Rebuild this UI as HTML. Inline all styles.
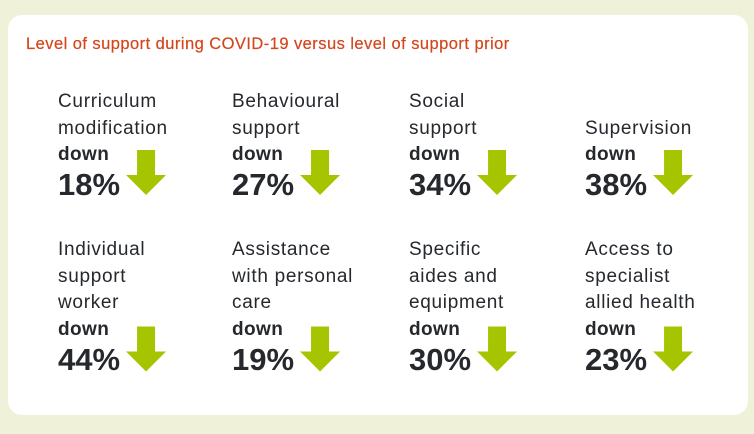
<!DOCTYPE html>
<html><head><meta charset="utf-8"><style>
body{margin:0;width:754px;height:434px;background:#eff2d8;font-family:"Liberation Sans",sans-serif;overflow:hidden;position:relative}
#card{position:absolute;left:8px;top:15px;width:740px;height:400px;background:#fff;border-radius:14px}
#title{position:absolute;left:26px;top:35px;font-size:16.5px;letter-spacing:0.45px;color:#d4461c;white-space:nowrap;-webkit-text-stroke:0.2px #d4461c}
.item{position:absolute;color:#25282d}
.ln{position:absolute;left:0;height:26.5px;line-height:26.5px;font-size:19px;letter-spacing:0.7px;white-space:nowrap}
.b{font-weight:bold;letter-spacing:0.4px}
.pc{position:absolute;left:0;font-size:31px;font-weight:bold;line-height:34px;white-space:nowrap}
svg{position:absolute;left:0;top:0}
</style></head><body>
<div id="card"></div>
<div id="title">Level of support during COVID-19 versus level of support prior</div>
<div id="items"></div>
<svg id="arrows" width="754" height="434"></svg>
<script>
const categories=[["Curriculum","modification"],["Behavioural","support"],["Social","support"],["Supervision"],["Individual","support","worker"],["Assistance","with personal","care"],["Specific","aides and","equipment"],["Access to","specialist","allied health"]];
const values=[18,27,34,38,44,19,30,23];
const colX=[58,232,409,585];
const rowTops=[[89,115.5,142,168],[237,263.5,290,316.5,343]];
const host=document.getElementById('items');
const svg=document.getElementById('arrows');
const NS='http://www.w3.org/2000/svg';
const meas=document.createElement('canvas').getContext('2d');
meas.font='bold 31px "Liberation Sans", sans-serif';
categories.forEach((lab,i)=>{
  const r=i<4?0:1, c=i%4, x=colX[c], tops=rowTops[r];
  const n=tops.length;
  const item=document.createElement('div');
  item.className='item';
  item.style.left=x+'px';item.style.top='0px';
  
  
  const start=n-2-lab.length;
  lab.forEach((t,k)=>{
    const d=document.createElement('div');d.className='ln';d.textContent=t;
    d.style.top=tops[start+k]+'px';
    
    
    item.appendChild(d);
  });
  const dn=document.createElement('div');dn.className='ln b';dn.textContent='down';dn.style.top=tops[n-2]+'px';
  
  
  item.appendChild(dn);
  const pc=document.createElement('div');pc.className='pc';pc.textContent=values[i]+'%';pc.style.top=tops[n-1]+'px';
  
  
  item.appendChild(pc);
  host.appendChild(item);
  const w=meas.measureText(values[i]+'%').width;
  const ax=x+w+6, ay=tops[n-2]+8+(r?2:0);
  const p=document.createElementNS(NS,'polygon');
  p.setAttribute('points',[[ax+11,ay],[ax+29,ay],[ax+29,ay+25],[ax+40,ay+25],[ax+20,ay+45],[ax,ay+25],[ax+11,ay+25]].map(q=>q.join(',')).join(' '));
  p.setAttribute('fill','#a6c500');
  
  
  svg.appendChild(p);
});
</script>
</body></html>
